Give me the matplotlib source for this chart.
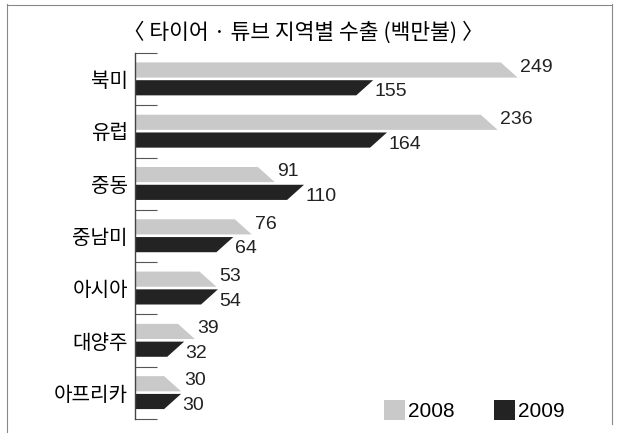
import matplotlib
matplotlib.use("Agg")
import matplotlib.pyplot as plt
from matplotlib.patches import Polygon, Patch
from matplotlib.lines import Line2D

plt.rcParams['font.family'] = ['Noto Sans CJK KR', 'DejaVu Sans']

# data (millions of USD)
regions = ["북미", "유럽", "중동", "중남미", "아시아", "대양주", "아프리카"]
exports2008 = [249, 236, 91, 76, 53, 39, 30]
exports2009 = [155, 164, 110, 64, 54, 32, 30]
years = ["2008", "2009"]
title = "〈 타이어 · 튜브 지역별 수출 (백만불) 〉"

colGray = "#c9c9c9"
colDark = "#232323"
slant = 11     # length of the slanted tip, in data units
barH = 0.29

fig = plt.figure(figsize=(6.19, 4.33), dpi=100)
ax = fig.add_axes([0.218, 0.0323, 0.73, 0.8453])

for i in range(len(regions)):
    v1 = exports2008[i]
    v2 = exports2009[i]
    # 2008: top edge cut short, point at bottom right
    t1 = i - 0.32
    b1 = t1 + barH
    ax.add_patch(Polygon([(0, t1), (v1 - slant, t1), (v1, b1), (0, b1)],
                         closed=True, facecolor=colGray, edgecolor="none"))
    # 2009: bottom edge cut short, point at top right
    t2 = i + 0.02
    b2 = t2 + barH
    ax.add_patch(Polygon([(0, t2), (v2, t2), (v2 - slant, b2), (0, b2)],
                         closed=True, facecolor=colDark, edgecolor="none"))
    ax.annotate(str(v1), (v1, i - 0.175), xytext=(2, 2), textcoords="offset points",
                ha="left", va="center", fontsize=14, family="Liberation Sans", color="#222222")
    ax.annotate(str(v2), (v2, i + 0.165), xytext=(1, -3), textcoords="offset points",
                ha="left", va="center", fontsize=14, family="Liberation Sans", color="#222222")

ax.set_xlim(0, 294)
ax.set_ylim(len(regions) - 0.5, -0.5)

for s in ["top", "right", "bottom"]:
    ax.spines[s].set_visible(False)
ax.spines["left"].set_color("#444444")
ax.spines["left"].set_linewidth(1.0)
ax.set_xticks([])
ax.set_yticks(range(len(regions)))
ax.set_yticklabels(regions, fontsize=14.5)
ax.tick_params(axis="y", which="major", length=0, pad=5)
ax.set_yticks([k - 0.5 for k in range(len(regions) + 1)], minor=True)
ax.tick_params(axis="y", which="minor", direction="in", length=16, width=0.8, color="#555555")

handles = [Patch(facecolor=colGray, edgecolor="none"), Patch(facecolor=colDark, edgecolor="none")]
leg = ax.legend(handles, years, ncol=2, frameon=False, loc="center",
                bbox_to_anchor=(0.766, 0.053), bbox_transform=fig.transFigure,
                handlelength=1.0, handleheight=1.1, handletextpad=0.15, columnspacing=1.9,
                prop={"family": "Liberation Sans", "size": 15})

fig.text(0.49, 0.925, title, ha="center", va="center", fontsize=15.5)

# scanned frame around the chart
fig.add_artist(Line2D([0.012, 0.012], [0.0, 0.99], transform=fig.transFigure, color="#888888", lw=0.8))
fig.add_artist(Line2D([0.988, 0.988], [0.02, 0.99], transform=fig.transFigure, color="#888888", lw=0.8))
fig.add_artist(Line2D([0.012, 0.988], [0.988, 0.988], transform=fig.transFigure, color="#888888", lw=0.8))

fig.savefig("out.png", dpi=100)
